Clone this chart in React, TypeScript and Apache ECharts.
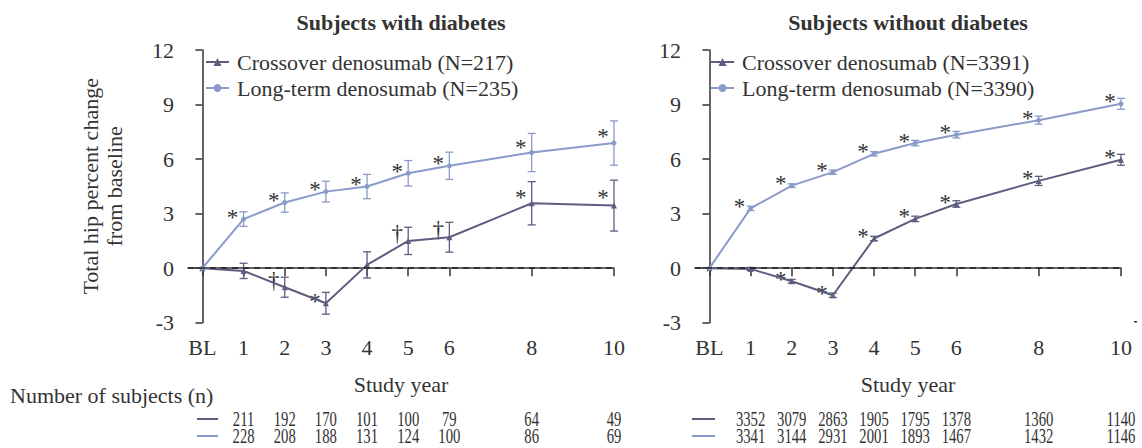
import React, { useEffect, useRef } from 'react';
import * as echarts from 'echarts';

// ---------- data ----------
const years = [0, 1, 2, 3, 4, 5, 6, 8, 10];
const nYears = [1, 2, 3, 4, 5, 6, 8, 10];
const Y_MIN = -3;
const Y_MAX = 12;
const Y_STEP = 3;

const panelTitles = ['Subjects with diabetes', 'Subjects without diabetes'];

// Subjects with diabetes
const dmCrossName = 'Crossover denosumab (N=217)';
const dmLongName = 'Long-term denosumab (N=235)';
const dmCrossMean = [0, -0.15, -1.05, -1.93, 0.18, 1.5, 1.7, 3.57, 3.44];
const dmCrossErr = [0, 0.42, 0.55, 0.6, 0.72, 0.75, 0.82, 1.19, 1.4];
const dmCrossMarks = ['', '', '†', '*', '', '†', '†', '*', '*'];
const dmLongMean = [0, 2.7, 3.61, 4.21, 4.49, 5.22, 5.63, 6.36, 6.88];
const dmLongErr = [0, 0.4, 0.53, 0.57, 0.67, 0.7, 0.75, 1.05, 1.22];
const dmLongMarks = ['', '*', '*', '*', '*', '*', '*', '*', '*'];
const dmCrossN = [211, 192, 170, 101, 100, 79, 64, 49];
const dmLongN = [228, 208, 188, 131, 124, 100, 86, 69];

// Subjects without diabetes
const ndCrossName = 'Crossover denosumab (N=3391)';
const ndLongName = 'Long-term denosumab (N=3390)';
const ndCrossMean = [0, -0.04, -0.72, -1.49, 1.63, 2.71, 3.53, 4.8, 5.96];
const ndCrossErr = [0, 0.08, 0.1, 0.12, 0.12, 0.15, 0.18, 0.25, 0.3];
const ndCrossMarks = ['', '', '*', '*', '*', '*', '*', '*', '*'];
const ndLongMean = [0, 3.29, 4.54, 5.28, 6.29, 6.88, 7.34, 8.14, 9.04];
const ndLongErr = [0, 0.12, 0.1, 0.12, 0.12, 0.15, 0.18, 0.22, 0.3];
const ndLongMarks = ['', '*', '*', '*', '*', '*', '*', '*', '*'];
const ndCrossN = [3352, 3079, 2863, 1905, 1795, 1378, 1360, 1140];
const ndLongN = [3341, 3144, 2931, 2001, 1893, 1467, 1432, 1146];

// ---------- styles ----------
const FONT = 'Liberation Serif, Times New Roman, serif';
const TEXT = '#333333';
const DARK = '#5d5d7f';
const LIGHT = '#8a9bc9';
const GRID_LEFT = [188, 695];
const GRID_TOP = 50;
const GRID_W = 426;
const GRID_H = 272.7;

function errorSeries(panel: number, name: string, mean: number[], err: number[], marks: string[], color: string) {
  return {
    type: 'custom',
    name,
    xAxisIndex: panel,
    yAxisIndex: panel,
    silent: true,
    z: 3,
    encode: { x: 0, y: 3 },
    data: years.map((y, k) => [y, mean[k] - err[k], mean[k] + err[k], mean[k], err[k]]),
    renderItem: (params: any, api: any) => {
      const x = api.value(0);
      const lo = api.value(1);
      const hi = api.value(2);
      const m = api.value(3);
      const e = api.value(4);
      const children: any[] = [];
      const cap = 4;
      if (hi > lo) {
        const pLo = api.coord([x, lo]);
        const pHi = api.coord([x, hi]);
        const st = { stroke: color, lineWidth: 1.3 };
        children.push({ type: 'line', shape: { x1: pLo[0], y1: pLo[1], x2: pHi[0], y2: pHi[1] }, style: st });
        children.push({ type: 'line', shape: { x1: pLo[0] - cap, y1: pLo[1], x2: pLo[0] + cap, y2: pLo[1] }, style: st });
        children.push({ type: 'line', shape: { x1: pHi[0] - cap, y1: pHi[1], x2: pHi[0] + cap, y2: pHi[1] }, style: st });
      }
      const mark = marks[params.dataIndex];
      if (mark) {
        const pS = api.coord([x, m + Math.max(e * 0.5, 0.38)]);
        const dy = mark === '*' ? 5 : 0;
        children.push({
          type: 'text',
          x: pS[0] - 11,
          y: pS[1] + dy,
          style: { text: mark, align: 'center', verticalAlign: 'middle', fontSize: 23, fontFamily: FONT, fill: TEXT },
        });
      }
      return { type: 'group', children };
    },
  };
}

function countSeries(panel: number, counts: number[], offset: number) {
  return {
    type: 'custom',
    name: 'n' + panel + '-' + offset,
    xAxisIndex: panel,
    yAxisIndex: panel,
    silent: true,
    encode: { x: 0 },
    data: nYears.map((y, k) => [y, counts[k]]),
    renderItem: (params: any, api: any) => {
      const p = api.coord([api.value(0), Y_MIN]);
      return {
        type: 'text',
        x: p[0],
        y: p[1] + offset,
        scaleX: 0.7,
        style: {
          text: String(api.value(1)),
          align: 'center',
          verticalAlign: 'middle',
          fontSize: 21,
          fontFamily: FONT,
          fill: TEXT,
        },
      };
    },
  };
}

function lineSeries(panel: number, name: string, mean: number[], color: string, symbol: string, size: number, withZero: boolean) {
  const s: any = {
    type: 'line',
    name,
    xAxisIndex: panel,
    yAxisIndex: panel,
    data: years.map((y, k) => [y, mean[k]]),
    symbol,
    symbolSize: size,
    showSymbol: true,
    z: 4,
    lineStyle: { color, width: 2 },
    itemStyle: { color },
  };
  if (withZero) {
    s.markLine = {
      silent: true,
      symbol: ['none', 'none'],
      label: { show: false },
      lineStyle: { color: '#222', width: 1.5, type: [6, 5] },
      data: [{ yAxis: 0 }],
    };
  }
  return s;
}

function xAxis(panel: number) {
  return {
    type: 'value',
    gridIndex: panel,
    min: -0.35,
    max: 10,
    name: 'Study year',
    nameLocation: 'middle',
    nameGap: 51,
    nameTextStyle: { fontSize: 22, fontFamily: FONT, color: TEXT },
    axisLine: { show: true, lineStyle: { color: TEXT, width: 1.5 } },
    axisTick: { show: true, length: 8, customValues: years, lineStyle: { color: TEXT, width: 1.5 } },
    axisLabel: {
      customValues: years,
      margin: 14,
      fontSize: 22,
      fontFamily: FONT,
      color: TEXT,
      formatter: (v: number) => (v === 0 ? 'BL' : String(v)),
    },
    splitLine: { show: false },
  };
}

function yAxis(panel: number) {
  const a: any = {
    type: 'value',
    gridIndex: panel,
    min: Y_MIN,
    max: Y_MAX,
    interval: Y_STEP,
    axisLine: { show: true, lineStyle: { color: TEXT, width: 1.5 } },
    axisTick: { show: true, length: 7, lineStyle: { color: TEXT, width: 1.5 } },
    axisLabel: { margin: 14, fontSize: 22, fontFamily: FONT, color: TEXT },
    splitLine: { show: false },
  };
  if (panel === 0) {
    a.name = 'Total hip percent change\nfrom baseline';
    a.nameLocation = 'middle';
    a.nameGap = 62;
    a.nameTextStyle = { fontSize: 22, fontFamily: FONT, color: TEXT, lineHeight: 24 };
  }
  return a;
}

function legend(names: string[], left: number) {
  return {
    orient: 'vertical',
    left,
    top: 46,
    data: names,
    itemWidth: 23,
    itemHeight: 10,
    itemGap: 4,
    selectedMode: false,
    formatter: '{t|{name}}',
    textStyle: {
      fontSize: 22,
      fontFamily: FONT,
      color: TEXT,
      rich: { t: { fontSize: 22, fontFamily: FONT, color: TEXT, lineHeight: 22, padding: [0, 0, 0, 3] } },
    },
  };
}

export default function App() {
  const ref = useRef<HTMLDivElement>(null);
  useEffect(() => {
    if (!ref.current) return;
    const chart = echarts.init(ref.current, null, { renderer: 'svg' });
    const dash = (x1: number, x2: number, y: number, color: string) => ({
      type: 'line',
      shape: { x1, y1: y, x2, y2: y },
      style: { stroke: color, lineWidth: 2 },
    });
    const option: any = {
      animation: false,
      backgroundColor: '#ffffff',
      textStyle: { fontFamily: FONT, color: TEXT },
      grid: GRID_LEFT.map((l) => ({ left: l, top: GRID_TOP, width: GRID_W, height: GRID_H })),
      xAxis: [xAxis(0), xAxis(1)],
      yAxis: [yAxis(0), yAxis(1)],
      legend: [legend([dmCrossName, dmLongName], 200), legend([ndCrossName, ndLongName], 705)],
      graphic: [
        {
          type: 'text',
          x: GRID_LEFT[0] + GRID_W / 2,
          y: 22,
          style: { text: panelTitles[0], align: 'center', verticalAlign: 'middle', fontSize: 22, fontWeight: 'bold', fontFamily: FONT, fill: TEXT },
        },
        {
          type: 'text',
          x: GRID_LEFT[1] + GRID_W / 2,
          y: 22,
          style: { text: panelTitles[1], align: 'center', verticalAlign: 'middle', fontSize: 22, fontWeight: 'bold', fontFamily: FONT, fill: TEXT },
        },
        {
          type: 'text',
          x: 10,
          y: 395,
          style: { text: 'Number of subjects (n)', align: 'left', verticalAlign: 'middle', fontSize: 22, fontFamily: FONT, fill: TEXT },
        },
        dash(197, 218, 419, DARK),
        dash(197, 218, 436, LIGHT),
        dash(692, 715, 419, DARK),
        dash(692, 715, 436, LIGHT),
        { type: 'rect', shape: { x: 1134, y: 321, width: 3, height: 1.5 }, style: { fill: TEXT } },
      ],
      series: [
        lineSeries(0, dmCrossName, dmCrossMean, DARK, 'triangle', 6, true),
        lineSeries(0, dmLongName, dmLongMean, LIGHT, 'circle', 5, false),
        errorSeries(0, 'dmCrossErr', dmCrossMean, dmCrossErr, dmCrossMarks, DARK),
        errorSeries(0, 'dmLongErr', dmLongMean, dmLongErr, dmLongMarks, LIGHT),
        countSeries(0, dmCrossN, 96),
        countSeries(0, dmLongN, 113),
        lineSeries(1, ndCrossName, ndCrossMean, DARK, 'triangle', 6, true),
        lineSeries(1, ndLongName, ndLongMean, LIGHT, 'circle', 5, false),
        errorSeries(1, 'ndCrossErr', ndCrossMean, ndCrossErr, ndCrossMarks, DARK),
        errorSeries(1, 'ndLongErr', ndLongMean, ndLongErr, ndLongMarks, LIGHT),
        countSeries(1, ndCrossN, 96),
        countSeries(1, ndLongN, 113),
      ],
    };
    chart.setOption(option);
    return () => chart.dispose();
  }, []);
  return (
    <div
      ref={ref}
      style={{ position: 'absolute', left: 0, top: 0, width: 1142, height: 448, background: '#fff' }}
    />
  );
}
